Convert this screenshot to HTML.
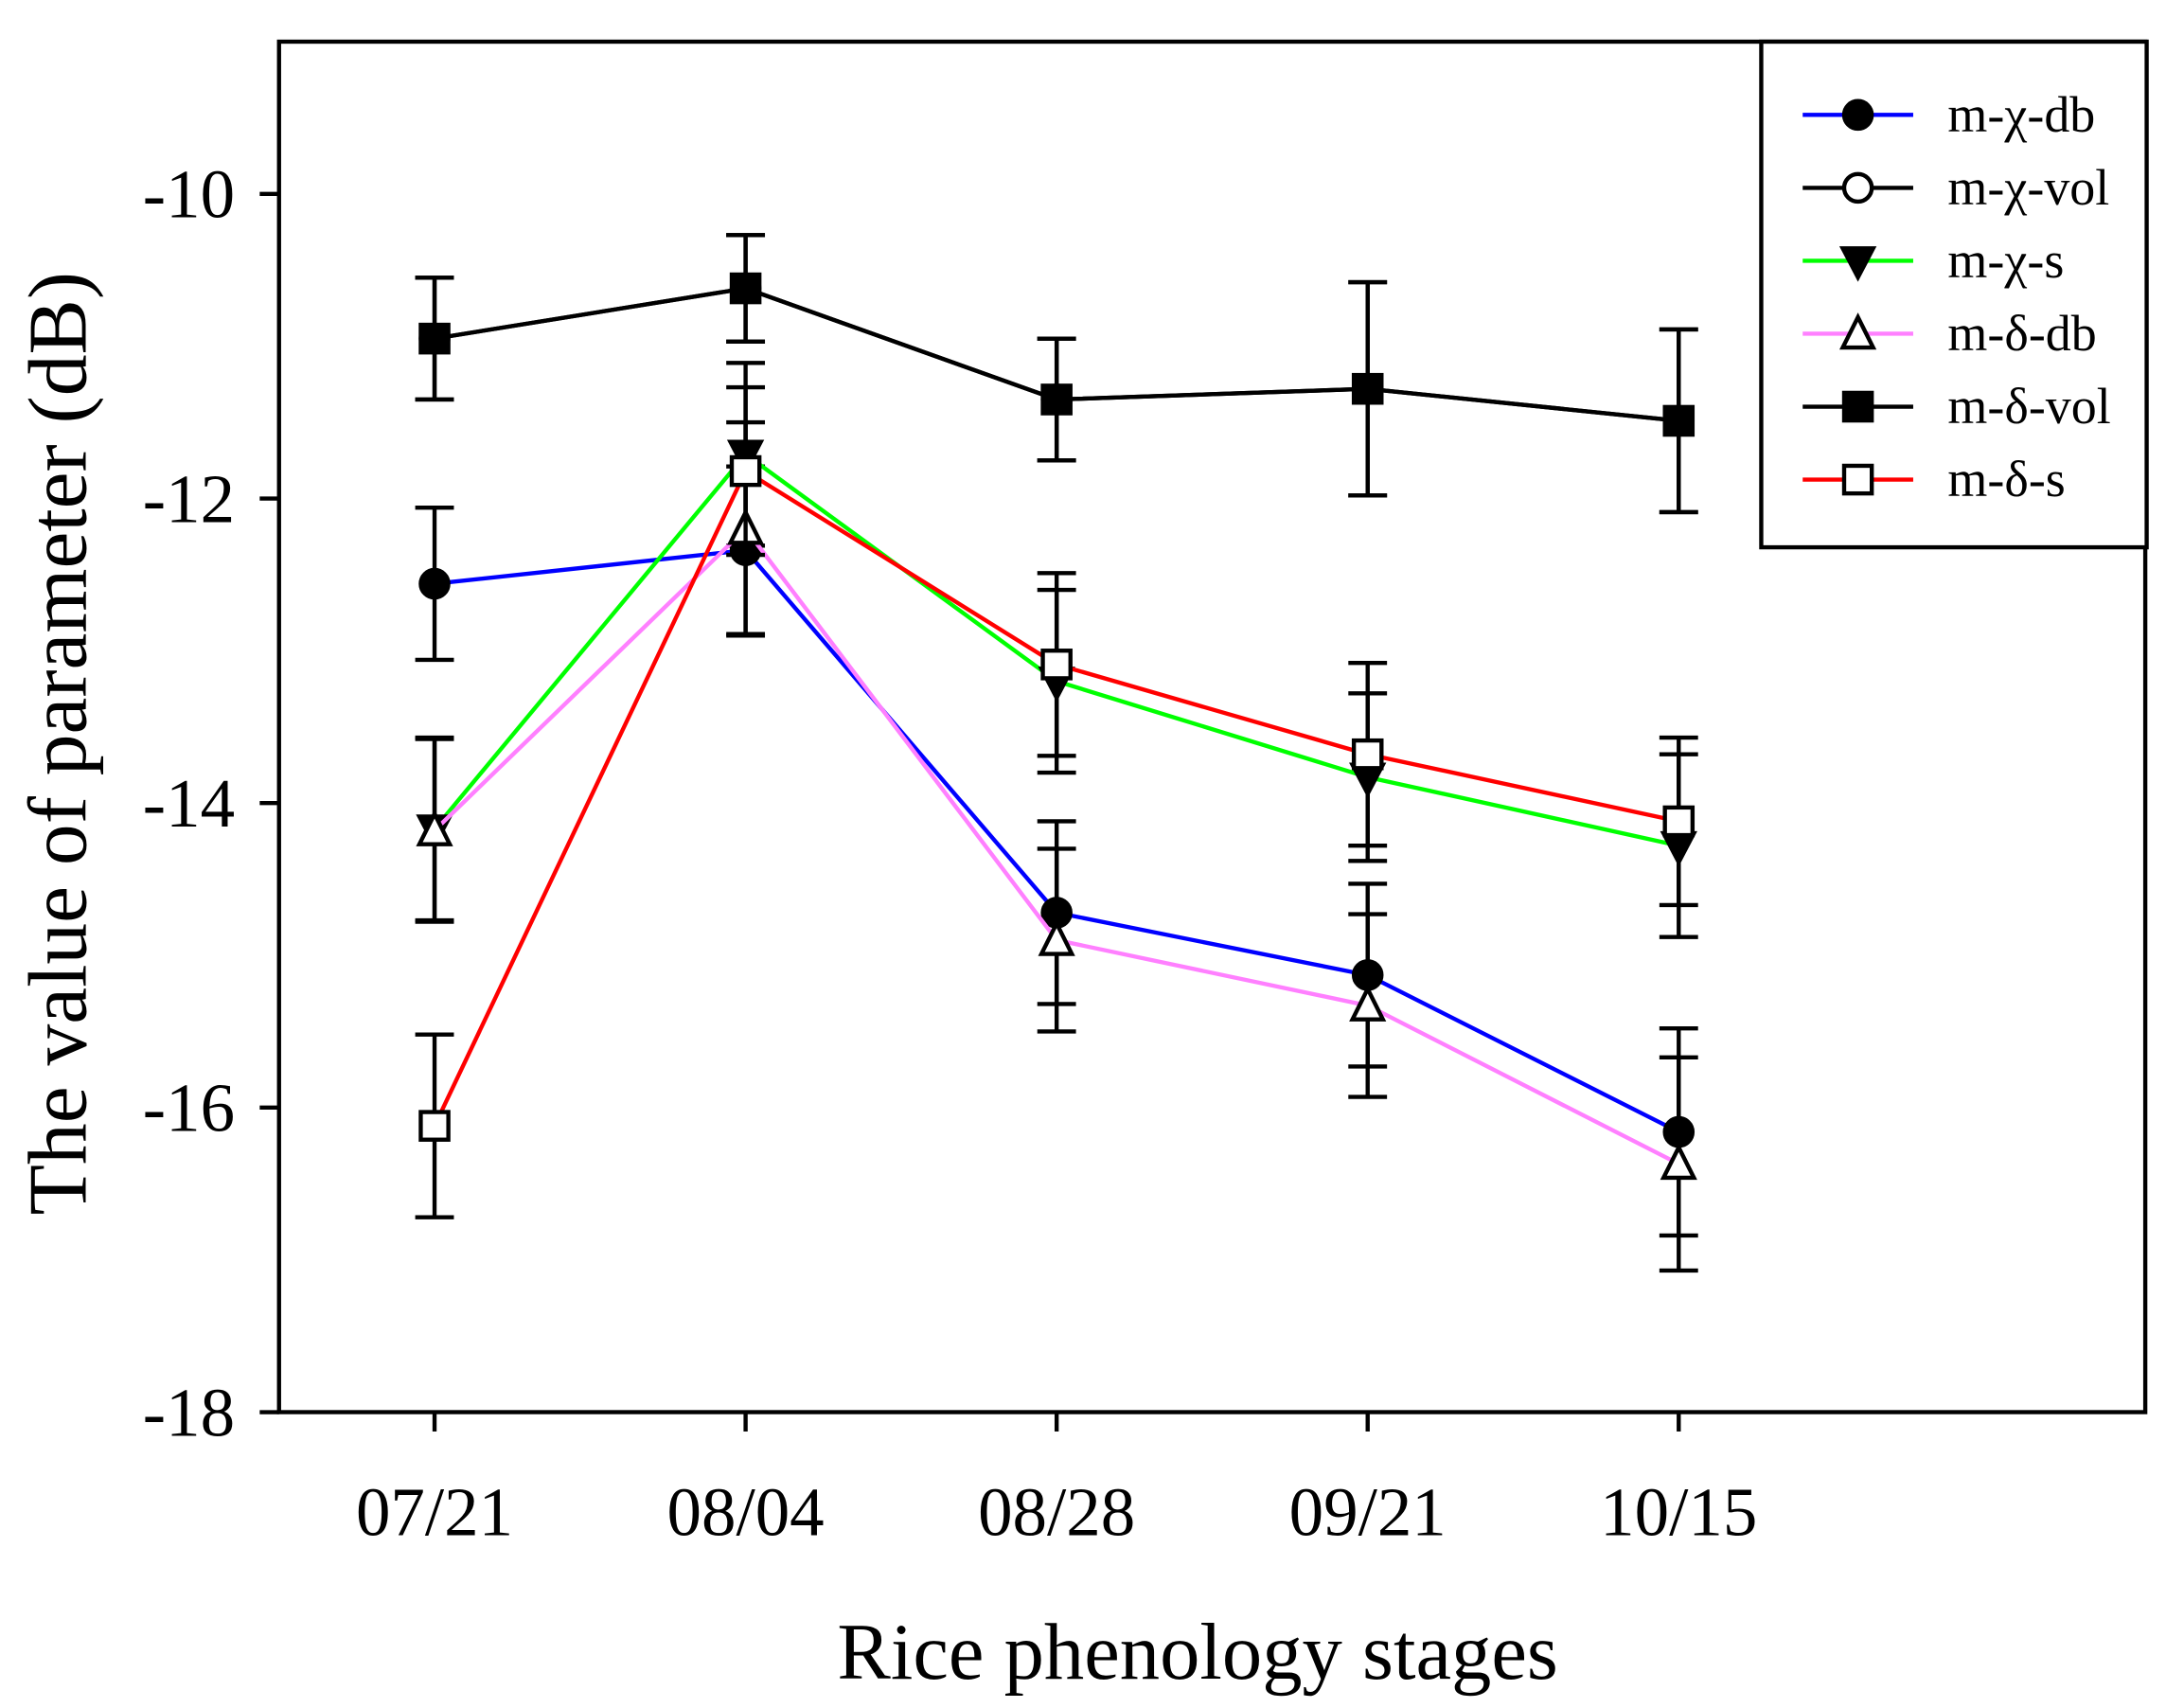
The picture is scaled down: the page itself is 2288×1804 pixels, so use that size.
<!DOCTYPE html>
<html><head><meta charset="utf-8"><style>html,body{margin:0;padding:0;background:#fff}svg{display:block}</style></head>
<body>
<svg id="chart" width="2288" height="1804" viewBox="0 0 1568 1236" xmlns="http://www.w3.org/2000/svg" font-family="'Liberation Serif', serif">
<rect x="0" y="0" width="1568" height="1236" fill="#fff"/>
<g id="plot"></g>
<rect x="202" y="30" width="1351" height="992" fill="none" stroke="#000" stroke-width="3"/>
<g id="axes"></g>
<text x="867" y="1215" font-size="58" text-anchor="middle">Rice phenology stages</text>
<text transform="translate(62,538) rotate(-90)" font-size="60" text-anchor="middle">The value of parameter (dB)</text>
<g id="legend"></g>
</svg>
<script>
const categories = ["07/21","08/04","08/28","09/21","10/15"];
const yTicks = [-18,-16,-14,-12,-10];
const seriesNames = ["m-χ-db","m-χ-vol","m-χ-s","m-δ-db","m-δ-vol","m-δ-s"];
const mChiDb = [-12.56,-12.34,-14.72,-15.13,-16.16];
const mChiDbErr = [0.5,0.55,0.6,0.6,0.68];
const mChiVol = [-10.95,-10.62,-11.35,-11.28,-11.49];
const mChiVolErr = [0.4,0.35,0.4,0.7,0.6];
const mChiS = [-14.17,-11.71,-13.2,-13.83,-14.28];
const mChiSErr = [0.6,0.6,0.6,0.55,0.6];
const mDeltaDb = [-14.18,-12.2,-14.9,-15.33,-16.37];
const mDeltaDbErr = [0.6,0.7,0.6,0.6,0.7];
const mDeltaVol = [-10.95,-10.62,-11.35,-11.28,-11.49];
const mDeltaVolErr = [0.4,0.35,0.4,0.7,0.6];
const mDeltaS = [-16.12,-11.82,-13.09,-13.68,-14.12];
const mDeltaSErr = [0.6,0.55,0.6,0.6,0.55];

const NS="http://www.w3.org/2000/svg";
const L=202,R=1553,T=30,B=1022;
const xMin=-0.5,xMax=5.5,yMin=-18,yMax=-9;
const xs=i=>L+(i-xMin)/(xMax-xMin)*(R-L);
const ys=v=>B-(v-yMin)/(yMax-yMin)*(B-T);
function mk(tag,attrs,parent){const e=document.createElementNS(NS,tag);for(const k in attrs)e.setAttribute(k,attrs[k]);parent.appendChild(e);return e;}
const axes=document.getElementById('axes');
yTicks.forEach(v=>{
  const t=mk('line',{x1:L-14,x2:L,y1:ys(v),y2:ys(v),stroke:'#000','stroke-width':3},axes);
  
  
  const tx=mk('text',{x:L-32,y:ys(v)+17,'font-size':50,'text-anchor':'end'},axes);
  tx.textContent=v;
  
  
});
categories.forEach((c,i)=>{
  const t=mk('line',{x1:xs(i),x2:xs(i),y1:B,y2:B+14,stroke:'#000','stroke-width':3},axes);
  
  
  const tx=mk('text',{x:xs(i),y:1111,'font-size':50,'text-anchor':'middle'},axes);
  tx.textContent=c;
  
  
});
const series=[
 {vals:mChiVol,err:mChiVolErr,color:'#000',marker:'circle',fill:'#fff'},
 {vals:mDeltaVol,err:mDeltaVolErr,color:'#000',marker:'square',fill:'#000'},
 {vals:mChiDb,err:mChiDbErr,color:'#0000ff',marker:'circle',fill:'#000'},
 {vals:mChiS,err:mChiSErr,color:'#00ff00',marker:'down',fill:'#000'},
 {vals:mDeltaDb,err:mDeltaDbErr,color:'#ff80ff',marker:'up',fill:'#fff'},
 {vals:mDeltaS,err:mDeltaSErr,color:'#ff0000',marker:'square',fill:'#fff'},
];
function marker(type,x,y,fill,parent){
  let e;
  if(type==='circle')e=mk('circle',{cx:x,cy:y,r:10,fill:fill,stroke:'#000','stroke-width':3},parent);
  else if(type==='square')e=mk('rect',{x:x-10,y:y-10,width:20,height:20,fill:fill,stroke:'#000','stroke-width':3},parent);
  else if(type==='down')e=mk('polygon',{points:`${x-11},${y-9} ${x+11},${y-9} ${x},${y+12}`,fill:fill,stroke:'#000','stroke-width':3},parent);
  else e=mk('polygon',{points:`${x-11},${y+10} ${x+11},${y+10} ${x},${y-12}`,fill:fill,stroke:'#000','stroke-width':3},parent);
  return e;
}
const plot=document.getElementById('plot');
series.forEach(s=>{
  const g=mk('g',{},plot);
  
  
  s.vals.forEach((v,i)=>{
    const x=xs(i),y1=ys(v+s.err[i]),y2=ys(v-s.err[i]);
    const eb=mk('path',{d:`M${x},${y1}V${y2}M${x-14},${y1}H${x+14}M${x-14},${y2}H${x+14}`,stroke:'#000','stroke-width':3,fill:'none'},g);
    
    
  });
  const pl=mk('polyline',{points:s.vals.map((v,i)=>xs(i)+','+ys(v)).join(' '),fill:'none',stroke:s.color,'stroke-width':3},g);
  
  
  s.vals.forEach((v,i)=>{
    const m=marker(s.marker,xs(i),ys(v),s.fill,g);
    
    
  });
});
const leg=document.getElementById('legend');


mk('rect',{x:1275,y:30,width:279,height:366,fill:'#fff',stroke:'#000','stroke-width':3},leg);
const legStyle=[['#0000ff','circle','#000'],['#000','circle','#fff'],['#00ff00','down','#000'],['#ff80ff','up','#fff'],['#000','square','#000'],['#ff0000','square','#fff']];
seriesNames.forEach((n,k)=>{
  const y=83+k*52.8;
  const g=mk('g',{},leg);
  
  
  mk('line',{x1:1305,x2:1385,y1:y,y2:y,stroke:legStyle[k][0],'stroke-width':3},g);
  marker(legStyle[k][1],1345,y,legStyle[k][2],g);
  const t=mk('text',{x:1410,y:y+12,'font-size':37},g);
  t.textContent=n;
});
</script>
</body></html>
